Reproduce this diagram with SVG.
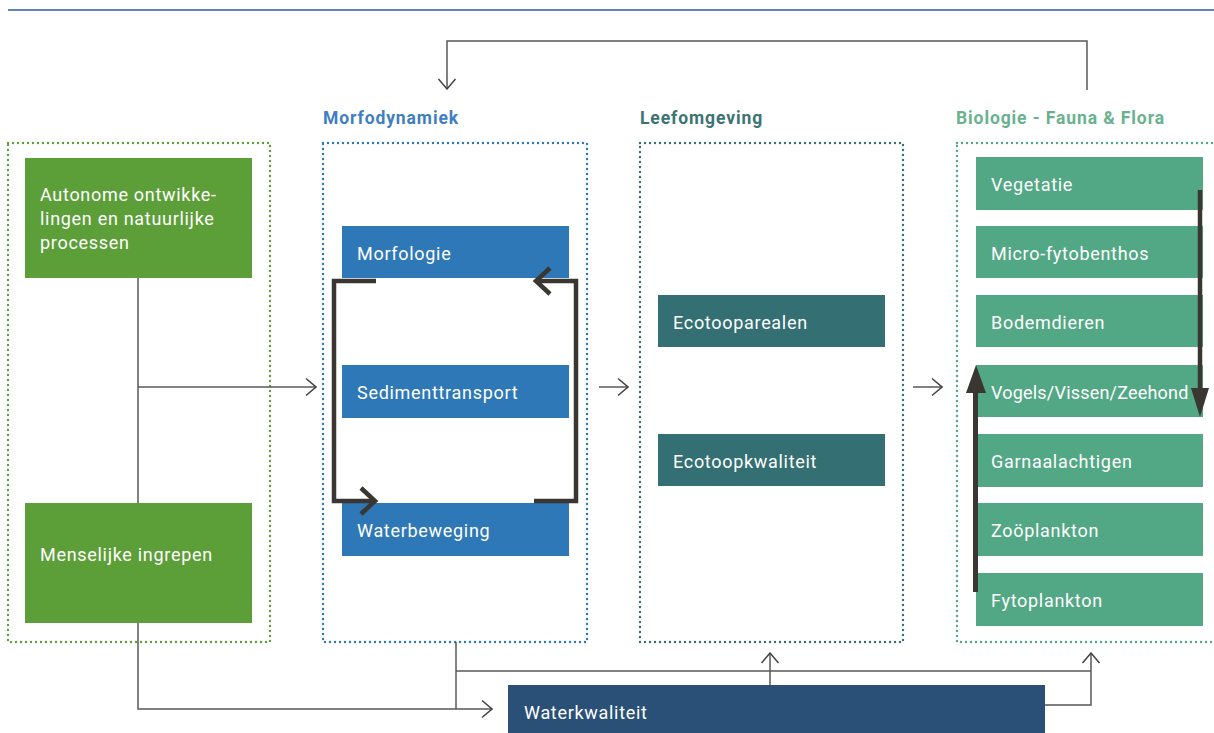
<svg xmlns="http://www.w3.org/2000/svg" width="1214" height="733" viewBox="0 0 1214 733">
<style>
  .lbl{font-family:Roboto,"Liberation Sans",sans-serif;font-size:18px;fill:#ffffff;letter-spacing:0.7px}
  .hdr{font-family:Roboto,"Liberation Sans",sans-serif;font-size:17.5px;font-weight:bold;letter-spacing:0.9px}
  .dot{fill:none;stroke-width:2.4;stroke-dasharray:0 5;stroke-linecap:round}
  .con{fill:none;stroke:#5a5856;stroke-width:1.5}
  .loop{fill:none;stroke:#3a3631;stroke-width:4.5}
  .g{fill:#5c9e38}
  .b{fill:#2e78b7}
  .t{fill:#336f73}
  .gt{fill:#52a884}
  .wk{fill:#2a5078}
</style>
<defs>
  <marker id="arr" markerUnits="userSpaceOnUse" viewBox="0 0 12 20" refX="11" refY="10" markerWidth="12" markerHeight="20" orient="auto">
    <path d="M1,1.5 L11,10 L1,18.5" fill="none" stroke="#444" stroke-width="1.5"/>
  </marker>
</defs>
<rect width="1214" height="733" fill="#ffffff"/>
<line x1="8" y1="10" x2="1214" y2="10" stroke="#2a5c9a" stroke-width="1.5"/>

<g id="groups">
  <rect class="dot" x="8" y="143" width="262" height="499" stroke="#5c9e38"/>
  <rect class="dot" x="323" y="143" width="264" height="499" stroke="#2e78b7"/>
  <rect class="dot" x="640" y="143" width="263" height="499" stroke="#336f73"/>
  <rect class="dot" x="957" y="143" width="270" height="499" stroke="#52a884"/>
  <text class="hdr" x="323" y="124" fill="#3f7fc1">Morfodynamiek</text>
  <text class="hdr" x="640" y="124" fill="#3c7373">Leefomgeving</text>
  <text class="hdr" x="956" y="124" fill="#6ab28f">Biologie - Fauna &amp; Flora</text>
</g>

<g id="connectors">
  <path class="con" d="M1087,90 V41 H447 V89" marker-end="url(#arr)"/>
  <path class="con" d="M138,278 V503"/>
  <path class="con" d="M138,387 H316" marker-end="url(#arr)"/>
  <path class="con" d="M138,623 V709 H492" marker-end="url(#arr)"/>
  <path class="con" d="M599,387 H628" marker-end="url(#arr)"/>
  <path class="con" d="M913,387 H942" marker-end="url(#arr)"/>
  <path class="con" d="M456,642 V709"/>
  <path class="con" d="M456,671 H1091"/>
  <path class="con" d="M770,685 V653" marker-end="url(#arr)"/>
  <path class="con" d="M1045,705 H1091 V653" marker-end="url(#arr)"/>
</g>

<g id="n-autonome"><rect class="g" x="25" y="158" width="227" height="120"/>
  <text class="lbl" x="40" y="201">Autonome ontwikke-</text>
  <text class="lbl" x="40" y="225">lingen en natuurlijke</text>
  <text class="lbl" x="40" y="249">processen</text></g>
<g id="n-menselijk"><rect class="g" x="25" y="503" width="227" height="120"/>
  <text class="lbl" x="40" y="561">Menselijke ingrepen</text></g>

<g id="n-morfologie"><rect class="b" x="342" y="226" width="227" height="52"/>
  <text class="lbl" x="357" y="260">Morfologie</text></g>
<g id="n-sediment"><rect class="b" x="342" y="365" width="227" height="53"/>
  <text class="lbl" x="357" y="399">Sedimenttransport</text></g>
<g id="n-waterbeweging"><rect class="b" x="342" y="503" width="227" height="53"/>
  <text class="lbl" x="357" y="537">Waterbeweging</text></g>

<g id="loop">
  <path class="loop" d="M376,281 H334 V501 H374"/>
  <path class="loop" d="M361,488 L375,501 L361,514"/>
  <path class="loop" d="M534,501 H576 V281 H537"/>
  <path class="loop" d="M550,268 L536,281 L550,294"/>
</g>

<g id="n-ecoareaal"><rect class="t" x="658" y="295" width="227" height="52"/>
  <text class="lbl" x="673" y="329">Ecotooparealen</text></g>
<g id="n-ecokwal"><rect class="t" x="658" y="434" width="227" height="52"/>
  <text class="lbl" x="673" y="468">Ecotoopkwaliteit</text></g>

<g id="n-vegetatie"><rect class="gt" x="976" y="157" width="227" height="53"/>
  <text class="lbl" x="991" y="191">Vegetatie</text></g>
<g id="n-micro"><rect class="gt" x="976" y="226" width="227" height="52"/>
  <text class="lbl" x="991" y="260">Micro-fytobenthos</text></g>
<g id="n-bodem"><rect class="gt" x="976" y="295" width="227" height="52"/>
  <text class="lbl" x="991" y="329">Bodemdieren</text></g>
<g id="n-vogels"><rect class="gt" x="976" y="365" width="227" height="52"/>
  <text class="lbl" x="991" y="399" style="letter-spacing:0.2px">Vogels/Vissen/Zeehond</text></g>
<g id="n-garnaal"><rect class="gt" x="976" y="434" width="227" height="53"/>
  <text class="lbl" x="991" y="468">Garnaalachtigen</text></g>
<g id="n-zoo"><rect class="gt" x="976" y="503" width="227" height="53"/>
  <text class="lbl" x="991" y="537">Zoöplankton</text></g>
<g id="n-fyto"><rect class="gt" x="976" y="573" width="227" height="53"/>
  <text class="lbl" x="991" y="607">Fytoplankton</text></g>

<g id="foodchain">
  <line x1="1200" y1="190" x2="1200" y2="392" stroke="#3a3631" stroke-width="4.5"/>
  <polygon points="1191,388 1209,388 1200,417" fill="#3a3631"/>
  <line x1="975.5" y1="592" x2="975.5" y2="390" stroke="#3a3631" stroke-width="5"/>
  <polygon points="966,393 986,393 976,365" fill="#3a3631"/>
</g>

<g id="n-waterkwaliteit"><rect class="wk" x="508" y="685" width="537" height="50"/>
  <text class="lbl" x="524" y="719">Waterkwaliteit</text></g>
</svg>
